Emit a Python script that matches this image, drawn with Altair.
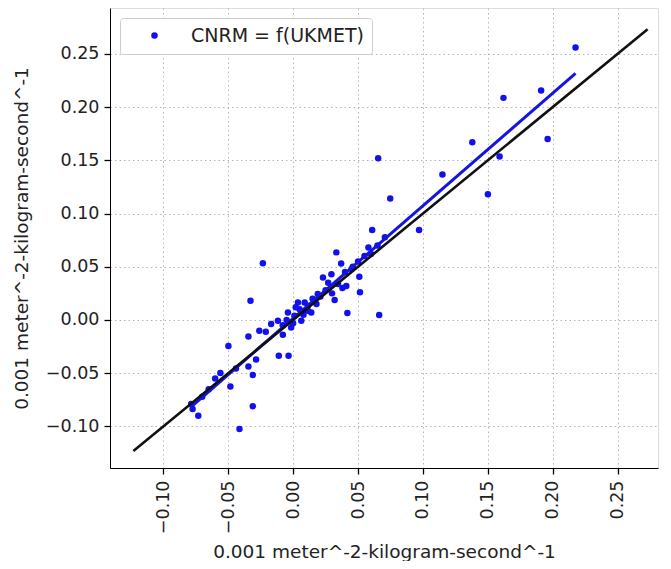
import altair as alt
import pandas as pd

# UKMET (x) vs CNRM (y) values, units of 0.001 m^-2 kg s^-1
ukmet = [
    0.2175, 0.191, 0.162, 0.196, 0.138, 0.159, 0.0655, 0.115, 0.150, 0.0748,
    0.097, 0.0609, 0.0333, 0.051, 0.0515, 0.032, 0.0418, 0.0663, 0.041, 0.058,
    0.0707, 0.045, 0.037, 0.0295, 0.023, 0.0346, 0.027, 0.0114, 0.0089, 0.038,
    0.050, 0.055, 0.065, 0.046, 0.015, 0.018, 0.025, 0.030, 0.040, 0.060,
    -0.0233, -0.0328, -0.0344, -0.0079, -0.026, -0.0498, -0.0169, -0.0117, -0.004, 0.001,
    0.0037, 0.0114, 0.014, 0.019, 0.0063, -0.0015, -0.011, -0.0035, -0.0285, -0.0344,
    -0.031, -0.044, -0.056, -0.0483, -0.031, -0.0774, -0.073, -0.0413, -0.0785, -0.060,
    -0.065, -0.070, -0.021, -0.005, 0.000, 0.005, 0.008, -0.008, 0.002, 0.021,
]
cnrm = [
    0.256, 0.2155, 0.2086, 0.170, 0.167, 0.1535, 0.152, 0.1366, 0.118, 0.114,
    0.0846, 0.0846, 0.0635, 0.0407, 0.026, 0.0188, 0.0066, 0.0047, 0.032, 0.068,
    0.0776, 0.048, 0.053, 0.043, 0.040, 0.0338, 0.035, 0.0087, 0.0165, 0.030,
    0.055, 0.060, 0.070, 0.050, 0.020, 0.015, 0.028, 0.025, 0.045, 0.062,
    0.0532, 0.018, -0.0154, -0.0138, -0.010, -0.0245, -0.0038, -0.0007, 0.0071, 0.004,
    0.0165, 0.0134, 0.0071, 0.0244, -0.0007, -0.007, -0.0336, -0.0336, -0.037, -0.0436,
    -0.0517, -0.0456, -0.0498, -0.0624, -0.081, -0.0836, -0.090, -0.1024, -0.079, -0.055,
    -0.065, -0.072, -0.011, 0.000, -0.003, 0.010, 0.005, -0.005, 0.012, 0.022,
]
series_name = "CNRM = f(UKMET)"
identity = [-0.123, 0.273]
tick_values = [-0.10, -0.05, 0.00, 0.05, 0.10, 0.15, 0.20, 0.25]
axis_title = "0.001 meter^-2-kilogram-second^-1"

pts = pd.DataFrame({"x": ukmet, "y": cnrm, "s": series_name})
ident = pd.DataFrame({"x": identity, "y": identity})

xs = alt.Scale(domain=[-0.141, 0.281], nice=False, zero=False)
ys = alt.Scale(domain=[-0.139, 0.293], nice=False, zero=False)

grid_kw = dict(gridDash=[1.5, 3], gridColor="#b5b5b5", gridWidth=1)
common = dict(values=tick_values, format=".2f", title=axis_title,
              labelFontSize=17.5, titleFontSize=18.5, titleFontWeight="normal",
              labelColor="#222", titleColor="#222", tickColor="#000", tickSize=6,
              tickWidth=1.3, domainColor="#000", **grid_kw)

xaxis = alt.Axis(labelAngle=270, labelPadding=6, titlePadding=9, **common)
yaxis = alt.Axis(labelPadding=5, titlePadding=14, **common)

points = alt.Chart(pts).mark_circle(size=42, opacity=1).encode(
    x=alt.X("x:Q", scale=xs, axis=xaxis),
    y=alt.Y("y:Q", scale=ys, axis=yaxis),
    color=alt.Color("s:N", scale=alt.Scale(domain=[series_name], range=["#1010f0"]),
                    legend=alt.Legend(title=None, orient="top-left", offset=10,
                                      padding=8, symbolOffset=17, labelOffset=27,
                                      labelFontSize=19, labelColor="#222",
                                      labelLimit=400,
                                      symbolSize=42, symbolType="circle",
                                      strokeColor="#cccccc", fillColor="white",
                                      cornerRadius=3)),
)

identity_line = alt.Chart(ident).mark_line(color="#111", strokeWidth=2.6).encode(
    x=alt.X("x:Q", scale=xs), y=alt.Y("y:Q", scale=ys)
)

fit = alt.Chart(pts).transform_regression("x", "y").mark_line(
    color="#1515e0", strokeWidth=3
).encode(x=alt.X("x:Q", scale=xs), y=alt.Y("y:Q", scale=ys))

chart = alt.layer(points, fit, identity_line).properties(
    width=548, height=460,
    autosize=alt.AutoSizeParams(type="none"),
    padding={"left": 102, "top": 0, "right": 5, "bottom": 93},
).configure_view(stroke="#000", strokeWidth=1.3).configure(font="DejaVu Sans")

chart.save("out.html", embed_options={"renderer": "svg", "actions": False})
